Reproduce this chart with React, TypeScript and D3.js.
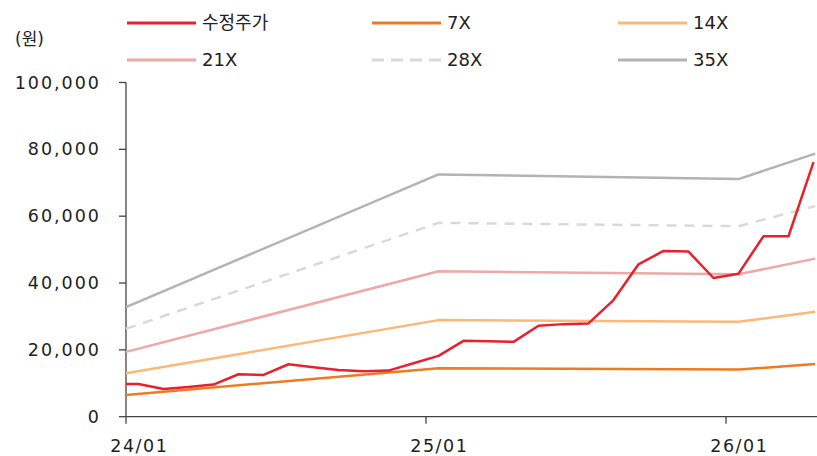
import * as d3 from "d3";

const PRICE_DATES = [
  "2024-01-01", "2024-01-16", "2024-02-16", "2024-03-16", "2024-04-16", "2024-05-16",
  "2024-06-16", "2024-07-16", "2024-08-16", "2024-09-16", "2024-10-16", "2024-11-16",
  "2024-12-16", "2025-01-16", "2025-02-16", "2025-03-16", "2025-04-16", "2025-05-16",
  "2025-06-16", "2025-07-16", "2025-08-16", "2025-09-16", "2025-10-16", "2025-11-16",
  "2025-12-16", "2026-01-16", "2026-02-16", "2026-03-16", "2026-04-16",
];
const PRICE = [
  9800, 9800, 8300, 8900, 9600, 12700, 12500, 15700, 14800, 14000, 13600, 13800,
  16000, 18200, 22700, 22600, 22400, 27200, 27700, 27900, 34900, 45600, 49600, 49400,
  41500, 42800, 54000, 54000, 76200,
];

const BAND_DATES = ["2024-01-01", "2025-01-16", "2026-01-16", "2026-04-18"];
const BAND_7X = [6500, 14500, 14100, 15750];
const BAND_14X = [13000, 28900, 28400, 31400];
const BAND_21X = [19400, 43500, 42600, 47300];
const BAND_28X = [26300, 58000, 57000, 63000];
const BAND_35X = [32800, 72500, 71100, 78700];

const X_TICKS = ["2024-01-01", "2025-01-01", "2026-01-01"];
const X_TICK_LABELS = ["24/01", "25/01", "26/01"];
const Y_TICKS = [0, 20000, 40000, 60000, 80000, 100000];

const FONT = "'DejaVu Sans', 'Noto Sans CJK KR', sans-serif";

// month index from a date string, so monthly points line up with the axis
const monthIndex = (s: string) => {
  const [y, m, d] = s.split("-").map(Number);
  return (y - 2024) * 12 + (m - 1) + (d - 1) / 30;
};

type Series = { name: string; dates: string[]; values: number[]; color: string; width: number; dash?: string };

const SERIES: Series[] = [
  { name: "35X", dates: BAND_DATES, values: BAND_35X, color: "#b3b3b3", width: 2.5 },
  { name: "28X", dates: BAND_DATES, values: BAND_28X, color: "#d9d9d9", width: 2.5, dash: "10,8" },
  { name: "21X", dates: BAND_DATES, values: BAND_21X, color: "#eea8a8", width: 2.5 },
  { name: "14X", dates: BAND_DATES, values: BAND_14X, color: "#fdb878", width: 2.5 },
  { name: "7X", dates: BAND_DATES, values: BAND_7X, color: "#f07a22", width: 2.5 },
  { name: "수정주가", dates: PRICE_DATES, values: PRICE, color: "#e8212d", width: 2.5 },
];

const LEGEND_ORDER = ["수정주가", "7X", "14X", "21X", "28X", "35X"];

export default function App() {
  const width = 817;
  const height = 456;
  const left = 126;
  const bottom = 416.7;

  const x = d3.scaleLinear().domain([0, 27.64]).range([left, 817]);
  const y = d3.scaleLinear().domain([0, 100000]).range([bottom, 82.5]);
  const fmt = d3.format(",");

  const line = d3
    .line<[number, number]>()
    .x((d) => x(d[0]))
    .y((d) => y(d[1]));

  return (
    <svg
      width={width}
      height={height}
      style={{ position: "absolute", left: 0, top: 0, background: "#fff" }}
      fontFamily={FONT}
    >
      {/* legend */}
      {LEGEND_ORDER.map((name, i) => {
        const s = SERIES.find((d) => d.name === name)!;
        const col = i % 3;
        const row = Math.floor(i / 3);
        const lx = [127, 372, 618][col];
        const ly = [23, 60][row];
        return (
          <g key={name}>
            <line
              x1={lx}
              x2={lx + 69}
              y1={ly}
              y2={ly}
              stroke={s.color}
              strokeWidth={3}
              strokeDasharray={s.dash ? "12,7" : undefined}
            />
            <text x={lx + 75} y={ly} dy="0.35em" fontSize={18} fill="#222">
              {name}
            </text>
          </g>
        );
      })}

      <text x={15} y={39} dy="0.35em" fontSize={17} fill="#222">
        (원)
      </text>

      {/* y axis */}
      <line x1={left} x2={left} y1={y(100000)} y2={bottom} stroke="#444" strokeWidth={1.3} />
      {Y_TICKS.map((t) => (
        <g key={t}>
          <line x1={left - 7} x2={left} y1={y(t)} y2={y(t)} stroke="#444" strokeWidth={1.3} />
          <text x={101} y={y(t)} dy="0.35em" textAnchor="end" fontSize={17.5} letterSpacing={2} fill="#222">
            {fmt(t)}
          </text>
        </g>
      ))}

      {/* x axis */}
      <line x1={left} x2={817} y1={bottom} y2={bottom} stroke="#444" strokeWidth={1.3} />
      {X_TICKS.map((t, i) => (
        <g key={t}>
          <line x1={x(monthIndex(t))} x2={x(monthIndex(t))} y1={bottom} y2={bottom + 7} stroke="#444" strokeWidth={1.3} />
          <text
            x={x(monthIndex(t) + 0.5) + 0.8}
            y={445.5}
            dy="0.35em"
            textAnchor="middle"
            fontSize={17.5}
            letterSpacing={1.5}
            fill="#222"
          >
            {X_TICK_LABELS[i]}
          </text>
        </g>
      ))}

      {/* lines */}
      {SERIES.map((s) => (
        <path
          key={s.name}
          d={line(s.dates.map((d, i) => [monthIndex(d), s.values[i]]))!}
          fill="none"
          stroke={s.color}
          strokeWidth={s.width}
          strokeDasharray={s.dash}
          strokeLinejoin="round"
        />
      ))}
    </svg>
  );
}
